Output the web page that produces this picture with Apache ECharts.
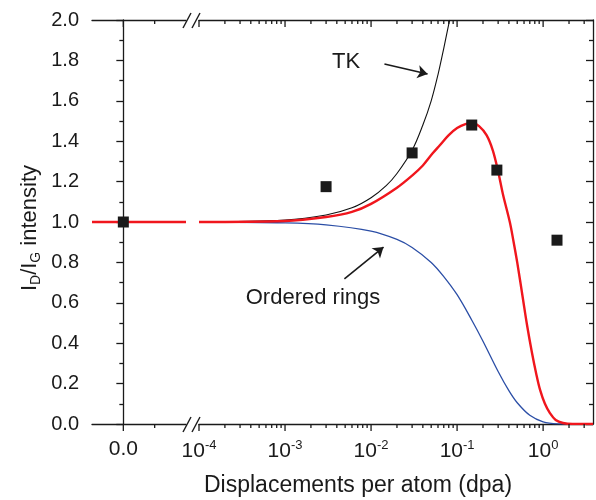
<!DOCTYPE html>
<html>
<head>
<meta charset="utf-8">
<script src="https://cdn.jsdelivr.net/npm/echarts@6/dist/echarts.min.js"></script>
<style>
  html, body { margin: 0; padding: 0; background: #fff; }
  #main { width: 596px; height: 500px; }
</style>
</head>
<body>
<div id="main"></div>
<script>
// x in dpa, y = I_D/I_G
var tkCurve = [
  [1e-4, 1.0], [1e-3, 1.01], [3e-3, 1.035], [0.006, 1.07], [0.01, 1.12],
  [0.015, 1.18], [0.02, 1.24], [0.03, 1.355], [0.04, 1.48], [0.05, 1.6],
  [0.06, 1.73], [0.07, 1.86], [0.08, 1.98], [0.082, 2.0]
];
var fitCurve = [
  [1e-4, 1.0], [1e-3, 1.005], [3e-3, 1.025], [0.006, 1.05], [0.01, 1.09],
  [0.02, 1.17], [0.03, 1.23], [0.04, 1.28], [0.052, 1.34], [0.063, 1.38],
  [0.08, 1.43], [0.1, 1.465], [0.125, 1.485], [0.15, 1.49], [0.18, 1.475],
  [0.22, 1.43], [0.26, 1.355], [0.3, 1.25], [0.34, 1.14], [0.41, 1.0],
  [0.45, 0.91], [0.5, 0.8], [0.58, 0.625], [0.65, 0.49], [0.74, 0.355],
  [0.83, 0.25], [0.92, 0.17], [1.05, 0.1], [1.2, 0.054], [1.4, 0.02],
  [1.7, 0.005], [2.2, 0], [3.8, 0]
];
var ringsCurve = [
  [1e-4, 1.0], [1e-3, 0.996], [3e-3, 0.986], [0.01, 0.955], [0.02, 0.914],
  [0.03, 0.874], [0.05, 0.8], [0.07, 0.73], [0.1, 0.64], [0.15, 0.51],
  [0.2, 0.41], [0.3, 0.26], [0.4, 0.165], [0.5, 0.105], [0.7, 0.043],
  [1.0, 0.011], [1.5, 0.001], [2, 0], [3.8, 0]
];
var measured = [[0.003, 1.175], [0.03, 1.342], [0.148, 1.48], [0.29, 1.257], [1.45, 0.91]];
var measuredAtZero = [[0, 1.0]];
var flatLeft = [[-0.1, 1.0], [0.2, 1.0]];

var LOG_MIN = 1e-4, LOG_MAX = 3.8;

// tick marks: [value, 0 = bottom / 1 = top, length]
var logMajorTicks = [1e-4, 1e-3, 1e-2, 1e-1, 1];
var logMinorTicks = [];
for (var d = -4; d <= 0; d++) {
  for (var k = 2; k <= 9; k++) {
    var v = k * Math.pow(10, d);
    if (v <= LOG_MAX) logMinorTicks.push(+v.toPrecision(3));
  }
}
var linMajorTicks = [0];
var linMinorTicks = [0.1];

var FONT = 'Liberation Sans, Arial, sans-serif';
var AXIS_COLOR = '#1a1a1a';

function tickData(major, minor) {
  var out = [];
  [0, 1].forEach(function (side) {
    major.forEach(function (t) { out.push([t, side, 7]); });
    minor.forEach(function (t) { out.push([t, side, 4]); });
  });
  return out;
}

function renderTick(params, api) {
  var side = api.value(1);
  var p = api.coord([api.value(0), side ? 2 : 0]);
  return {
    type: 'line',
    shape: { x1: p[0], y1: p[1], x2: p[0], y2: p[1] + api.value(2) },
    style: { stroke: AXIS_COLOR, lineWidth: 1.3 }
  };
}

var chart = echarts.init(document.getElementById('main'), null, { renderer: 'canvas' });

function xAx(grid, type, pos, labels, labelValues) {
  var ax = {
    gridIndex: grid,
    type: type,
    position: pos,
    min: type === 'log' ? LOG_MIN : -0.1,
    max: type === 'log' ? LOG_MAX : 0.2,
    axisLine: { show: true, onZero: false, lineStyle: { color: AXIS_COLOR, width: 1.3 } },
    axisTick: { show: false },
    axisLabel: { show: false },
    splitLine: { show: false }
  };
  if (type === 'log') ax.logBase = 10;
  if (labels) {
    ax.axisLabel = {
      show: true,
      customValues: labelValues,
      margin: 15,
      color: '#1a1a1a',
      fontFamily: FONT,
      fontSize: 21,
      formatter: labels,
      rich: {
        b: { fontSize: 21, fontFamily: FONT, color: '#1a1a1a', lineHeight: 24 },
        s: { fontSize: 13, fontFamily: FONT, color: '#1a1a1a', verticalAlign: 'top', lineHeight: 12 }
      }
    };
  }
  return ax;
}

function arrowLine(from, to) {
  return {
    silent: true, symbol: ['none', 'arrow'], symbolSize: 10,
    label: { show: false },
    emphasis: { disabled: true },
    lineStyle: { color: '#1a1a1a', width: 1.6, type: 'solid' },
    data: [[{ coord: from }, { coord: to }]]
  };
}

var option = {
  animation: false,
  backgroundColor: '#fff',
  grid: [
    { left: 92, top: 20, width: 94, bottom: 76 },
    { left: 199, top: 20, right: 3, bottom: 76 }
  ],
  xAxis: [
    xAx(0, 'value', 'bottom', function (v) { return v.toFixed(1); }, linMajorTicks),
    xAx(0, 'value', 'top'),
    xAx(1, 'log', 'bottom', function (v) {
      return '{b|10}{s|' + Math.round(Math.log10(v)) + '}';
    }, logMajorTicks),
    xAx(1, 'log', 'top')
  ],
  yAxis: [
    {
      gridIndex: 0, type: 'value', position: 'left', min: 0, max: 2, interval: 0.2,
      axisLine: { show: true, lineStyle: { color: AXIS_COLOR, width: 1.3 } },
      axisTick: { show: true, inside: false, length: 7, lineStyle: { color: AXIS_COLOR, width: 1.3 } },
      minorTick: { show: true, splitNumber: 2, length: 4, lineStyle: { color: AXIS_COLOR, width: 1.3 } },
      axisLabel: { margin: 13, color: '#1a1a1a', fontFamily: FONT, fontSize: 20, formatter: function (v) { return v.toFixed(1); } },
      splitLine: { show: false }
    },
    {
      gridIndex: 1, type: 'value', position: 'right', min: 0, max: 2, interval: 0.2,
      axisLine: { show: true, lineStyle: { color: AXIS_COLOR, width: 1.3 } },
      axisTick: { show: true, inside: true, length: 7, lineStyle: { color: AXIS_COLOR, width: 1.3 } },
      minorTick: { show: true, splitNumber: 2, length: 4, lineStyle: { color: AXIS_COLOR, width: 1.3 } },
      axisLabel: { show: false },
      splitLine: { show: false }
    }
  ],
  series: [
    // x ticks, placed through the axis scales
    { type: 'custom', xAxisIndex: 0, yAxisIndex: 0, data: tickData(linMajorTicks, linMinorTicks), renderItem: renderTick, clip: false, silent: true, z: 10 },
    { type: 'custom', xAxisIndex: 2, yAxisIndex: 1, data: tickData(logMajorTicks, logMinorTicks), renderItem: renderTick, clip: false, silent: true, z: 10 },
    // left (linear) segment
    { type: 'line', xAxisIndex: 0, yAxisIndex: 0, data: flatLeft, symbol: 'none', lineStyle: { color: '#2b4ea6', width: 1.3 } },
    { type: 'line', xAxisIndex: 0, yAxisIndex: 0, data: flatLeft, symbol: 'none', lineStyle: { color: '#111', width: 1.1 } },
    { type: 'line', xAxisIndex: 0, yAxisIndex: 0, data: flatLeft, symbol: 'none', lineStyle: { color: '#f0161d', width: 2.4 } },
    { type: 'scatter', xAxisIndex: 0, yAxisIndex: 0, data: measuredAtZero, symbol: 'rect', symbolSize: 11, itemStyle: { color: '#1a1a1a', opacity: 1 }, z: 5 },
    // right (log) segment
    {
      type: 'line', xAxisIndex: 2, yAxisIndex: 1, data: ringsCurve, symbol: 'none', smooth: 0.35,
      lineStyle: { color: '#2b4ea6', width: 1.3 },
      markLine: arrowLine([0.0049, 0.718], [0.01396, 0.876])
    },
    {
      type: 'line', xAxisIndex: 2, yAxisIndex: 1, data: tkCurve, symbol: 'none', smooth: 0.35,
      lineStyle: { color: '#111', width: 1.1 },
      markLine: arrowLine([0.0143, 1.782], [0.0454, 1.733])
    },
    { type: 'line', xAxisIndex: 2, yAxisIndex: 1, data: fitCurve, symbol: 'none', smooth: 0.35, lineStyle: { color: '#f0161d', width: 2.4 } },
    { type: 'scatter', xAxisIndex: 2, yAxisIndex: 1, data: measured, symbol: 'rect', symbolSize: 11, itemStyle: { color: '#1a1a1a', opacity: 1 }, z: 5 }
  ],
  graphic: [
    // axis break marks
    { type: 'line', shape: { x1: 183, y1: 28, x2: 191, y2: 13 }, style: { stroke: AXIS_COLOR, lineWidth: 1.4 }, z: 100 },
    { type: 'line', shape: { x1: 192, y1: 28, x2: 200, y2: 13 }, style: { stroke: AXIS_COLOR, lineWidth: 1.4 }, z: 100 },
    { type: 'line', shape: { x1: 183, y1: 432, x2: 191, y2: 417 }, style: { stroke: AXIS_COLOR, lineWidth: 1.4 }, z: 100 },
    { type: 'line', shape: { x1: 192, y1: 432, x2: 200, y2: 417 }, style: { stroke: AXIS_COLOR, lineWidth: 1.4 }, z: 100 },
    // annotations
    { type: 'text', x: 346, y: 62, style: { text: 'TK', font: '22px ' + FONT, fill: '#1a1a1a', align: 'center', verticalAlign: 'middle' } },
    { type: 'text', x: 313, y: 298, style: { text: 'Ordered rings', font: '22px ' + FONT, fill: '#1a1a1a', align: 'center', verticalAlign: 'middle' } },
    // axis titles
    { type: 'text', x: 358, y: 486, style: { text: 'Displacements per atom (dpa)', font: '23px ' + FONT, fill: '#1a1a1a', align: 'center', verticalAlign: 'middle' } },
    {
      type: 'text', x: 30, y: 228, rotation: Math.PI / 2,
      style: {
        text: '{a|I}{s|D}{a|/I}{s|G}{a| intensity}',
        align: 'center', verticalAlign: 'middle', fill: '#1a1a1a',
        rich: {
          a: { fontSize: 22, fontFamily: FONT, fill: '#1a1a1a', lineHeight: 26 },
          s: { fontSize: 14, fontFamily: FONT, fill: '#1a1a1a', lineHeight: 14, verticalAlign: 'bottom' }
        }
      }
    }
  ]
};

chart.setOption(option);
</script>
</body>
</html>
